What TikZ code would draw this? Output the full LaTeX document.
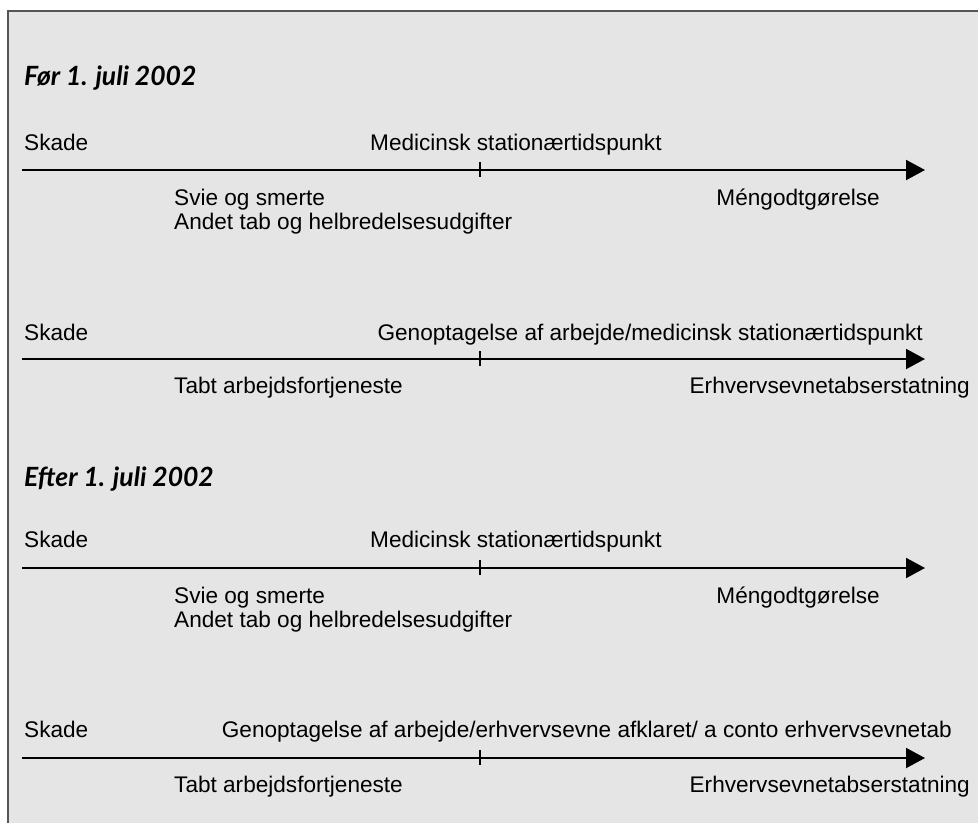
\documentclass[tikz,border=0pt]{standalone}
\usepackage{fontspec}
\setmainfont{Liberation Sans}
\newfontfamily\headfont{Lato}
\usetikzlibrary{arrows.meta}
\definecolor{bgc}{HTML}{E5E5E5}
\definecolor{bordc}{HTML}{555555}
\tikzset{
  lbl/.style={inner sep=0pt, anchor=base west, font=\fontsize{22.6}{26}\selectfont},
  lblr/.style={lbl, anchor=base east},
  head/.style={inner sep=0pt, anchor=base west, font=\headfont\bfseries\itshape\fontsize{26.5}{30}\selectfont},
  axis/.style={line width=2pt, -{Triangle[length=19pt,width=20pt]}},
  tickmark/.style={line width=2pt},
}
\begin{document}
\begin{tikzpicture}[x=1pt,y=-1pt]
\useasboundingbox (0,0) rectangle (978,823);
\fill[bgc] (8,11) rectangle (978,823);
\draw[bordc, line width=1.5pt] (8,823) -- (8,11) -- (978,11);

% headings
\node[head] (h1) at (24,85) {Før 1. juli 2002};
\node[head] (h2) at (24,486) {Efter 1. juli 2002};

% section 1
\coordinate (a1) at (22,170); \coordinate (b1) at (925,170); \coordinate (t1) at (480,170);
\draw[axis] (a1) -- (b1);
\draw[tickmark] ([yshift=8pt]t1) -- ([yshift=-7pt]t1);
\node[lbl] (s1) at (24,150) {Skade};
\node[lbl] (m1) at (370,150) {Medicinsk stationærtidspunkt};
\node[lbl] (sv1) at (174,205) {Svie og smerte};
\node[lbl] (an1) at (174,229) {Andet tab og helbredelsesudgifter};
\node[lblr] (me1) at (880,205) {Méngodtgørelse};

% section 2
\coordinate (a2) at (22,359); \coordinate (b2) at (925,359); \coordinate (t2) at (480,359);
\draw[axis] (a2) -- (b2);
\draw[tickmark] ([yshift=8pt]t2) -- ([yshift=-7pt]t2);
\node[lbl] (s2) at (24,340) {Skade};
\node[lblr] (g2) at (923,340) {Genoptagelse af arbejde/medicinsk stationærtidspunkt};
\node[lbl] (tb2) at (174,393) {Tabt arbejdsfortjeneste};
\node[lblr] (er2) at (970,393) {Erhvervsevnetabserstatning};

% section 3
\coordinate (a3) at (22,568); \coordinate (b3) at (925,568); \coordinate (t3) at (480,568);
\draw[axis] (a3) -- (b3);
\draw[tickmark] ([yshift=8pt]t3) -- ([yshift=-7pt]t3);
\node[lbl] (s3) at (24,547) {Skade};
\node[lbl] (m3) at (370,547) {Medicinsk stationærtidspunkt};
\node[lbl] (sv3) at (174,603) {Svie og smerte};
\node[lbl] (an3) at (174,627) {Andet tab og helbredelsesudgifter};
\node[lblr] (me3) at (880,603) {Méngodtgørelse};

% section 4
\coordinate (a4) at (22,758); \coordinate (b4) at (925,758); \coordinate (t4) at (480,758);
\draw[axis] (a4) -- (b4);
\draw[tickmark] ([yshift=8pt]t4) -- ([yshift=-7pt]t4);
\node[lbl] (s4) at (24,737) {Skade};
\node[lblr] (g4) at (952,737) {Genoptagelse af arbejde/erhvervsevne afklaret/ a conto erhvervsevnetab};
\node[lbl] (tb4) at (174,792) {Tabt arbejdsfortjeneste};
\node[lblr] (er4) at (970,792) {Erhvervsevnetabserstatning};
\end{tikzpicture}
\end{document}
